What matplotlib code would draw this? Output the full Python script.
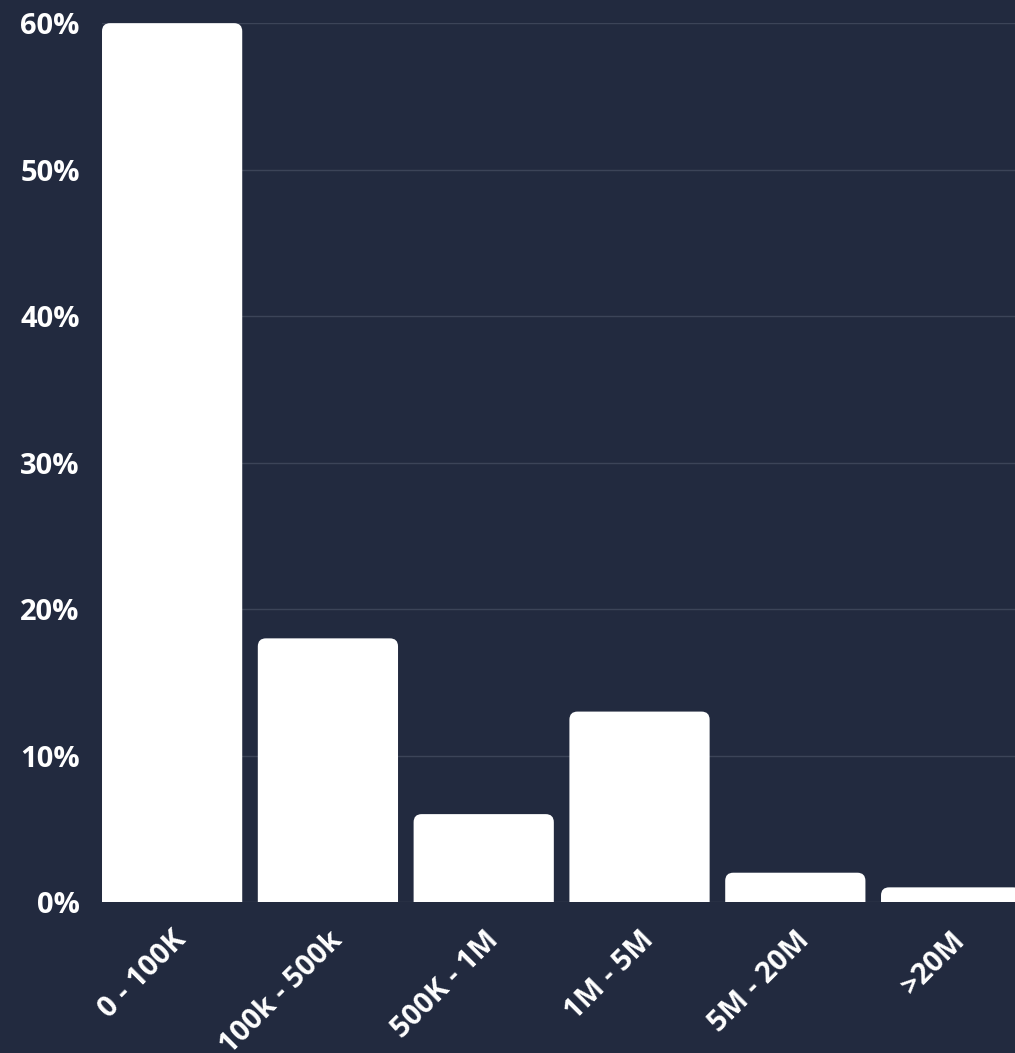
import matplotlib.pyplot as plt
from matplotlib.patches import FancyBboxPatch

# Share of accounts by follower bracket
brackets = ["0 - 100K", "100k - 500k", "500K - 1M", "1M - 5M", "5M - 20M", ">20M"]
shares = [60, 18, 6, 13, 2, 1]
y_ticks = [0, 10, 20, 30, 40, 50, 60]
y_labels = ["0%", "10%", "20%", "30%", "40%", "50%", "60%"]

bg = "#222a3f"
plt.rcParams["font.family"] = ["Open Sans", "DejaVu Sans"]

fig = plt.figure(figsize=(10.15, 10.53), dpi=100, facecolor=bg)
ax = fig.add_axes([0.1005, 0.1434, 0.8995, 0.8346], facecolor=bg)

width = 0.9
# rounded top corners, bottom pushed below zero and clipped by the axes
for i, v in enumerate(shares):
    patch = FancyBboxPatch(
        (i - width / 2, -2), width, v + 2,
        boxstyle="round,pad=0,rounding_size=0.052",
        mutation_aspect=10.6,
        facecolor="white", edgecolor="none", zorder=3,
    )
    ax.add_patch(patch)

ax.set_xlim(-0.45, 5.41)
ax.set_ylim(0, 60)
ax.set_yticks(y_ticks)
ax.set_yticklabels(y_labels)
ax.set_xticks(range(len(brackets)))
ax.set_xticklabels(brackets, rotation=45, ha="right", rotation_mode="anchor")

ax.grid(axis="y", color="#3c4458", linewidth=1, zorder=0)
ax.set_axisbelow(True)
for s in ax.spines.values():
    s.set_visible(False)

ax.tick_params(axis="y", length=0, pad=16, labelsize=21, labelcolor="white")
ax.tick_params(axis="x", length=0, pad=17, labelsize=21, labelcolor="white")
for lbl in ax.get_xticklabels() + ax.get_yticklabels():
    lbl.set_fontweight("bold")

fig.savefig("out.png", dpi=100, facecolor=bg)
